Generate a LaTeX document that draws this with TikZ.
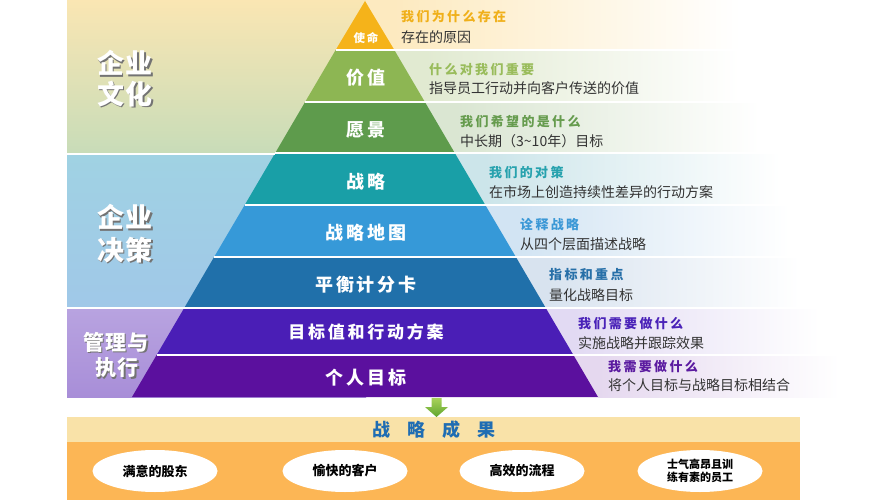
\documentclass[tikz,border=0pt]{standalone}
\usepackage{fontspec}
\usetikzlibrary{shapes.geometric}
\setmainfont{Noto Sans CJK SC}
\newfontfamily\pyrf{Noto Sans CJK SC}[LetterSpace=16]
\newfontfamily\hdf{Noto Sans CJK SC}[LetterSpace=18]
\newfontfamily\bigf{Noto Sans CJK SC}[LetterSpace=6]
\definecolor{pA}{HTML}{F5B31A}
\definecolor{pB}{HTML}{8DB653}
\definecolor{pC}{HTML}{5E9B4C}
\definecolor{pD}{HTML}{199FA7}
\definecolor{pE}{HTML}{3699D8}
\definecolor{pF}{HTML}{2070AA}
\definecolor{pG}{HTML}{4A1EB6}
\definecolor{pH}{HTML}{5B109E}
\definecolor{tA}{HTML}{FDEAC0}
\definecolor{tB}{HTML}{E1EAD1}
\definecolor{tC}{HTML}{DAE6D2}
\definecolor{tD}{HTML}{CCE5EA}
\definecolor{tE}{HTML}{D2E4F3}
\definecolor{tF}{HTML}{D8E3EF}
\definecolor{tG}{HTML}{E2DAF3}
\definecolor{tH}{HTML}{E5D8EF}
\definecolor{hA}{HTML}{F0B01A}
\definecolor{hB}{HTML}{99BC5B}
\definecolor{hC}{HTML}{669C4E}
\definecolor{hD}{HTML}{27A2AE}
\definecolor{hE}{HTML}{3B98D6}
\definecolor{hF}{HTML}{2870A8}
\definecolor{hG}{HTML}{4A22B8}
\definecolor{hH}{HTML}{5B1AA0}
\definecolor{subgray}{HTML}{333333}
\definecolor{resblue}{HTML}{1F6DB3}
\definecolor{resband}{HTML}{F9E2A8}
\definecolor{resorange}{HTML}{FCB655}
\definecolor{cultop}{HTML}{FAE6B3}
\definecolor{culbot}{HTML}{C8DCB8}
\definecolor{dectop}{HTML}{A0D2E3}
\definecolor{decbot}{HTML}{A0C8E8}
\definecolor{mgtop}{HTML}{B8A3E0}
\definecolor{mgbot}{HTML}{A88ED8}
\definecolor{arrtop}{HTML}{A8D25A}
\definecolor{arrbot}{HTML}{60A52E}
\begin{document}
\begin{tikzpicture}[x=1pt,y=-1pt,
  pyr/.style={text=white,font=\pyrf\bfseries\fontsize{18}{18}\selectfont,inner sep=0pt},
  hd/.style={anchor=west,inner sep=0pt,font=\hdf\bfseries\fontsize{13}{13}\selectfont},
  sub/.style={anchor=west,inner sep=0pt,text=subgray,font=\fontsize{14}{14}\selectfont},
  big/.style={text=white,inner sep=0pt,font=\bigf\bfseries\fontsize{27}{27}\selectfont},
  bigsh/.style={text=black!55,inner sep=0pt,font=\bigf\bfseries\fontsize{27}{27}\selectfont},
  mid/.style={text=white,inner sep=0pt,font=\bigf\bfseries\fontsize{21}{21}\selectfont},
  midsh/.style={text=black!55,inner sep=0pt,font=\bigf\bfseries\fontsize{21}{21}\selectfont},
  oval/.style={ellipse,fill=white,minimum width=125pt,minimum height=42pt,inner sep=0pt,align=center,font=\bfseries\fontsize{13}{14}\selectfont},
  sep/.style={white,line width=1.3pt}]
\useasboundingbox (0,0) rectangle (889,500);
\fill[white] (0,0) rectangle (889,500);
% left bands
\shade[top color=cultop,bottom color=culbot] (67,0) rectangle (366,153);
\shade[top color=dectop,bottom color=decbot] (67,155) rectangle (366,307);
\shade[top color=mgtop,bottom color=mgbot] (67,309) rectangle (366,397);
% right tints
\fill[tA] (366,0) rectangle (394,50);   \shade[left color=tA,right color=white] (394,0) rectangle (740,50);
\fill[tB] (366,50) rectangle (425,102); \shade[left color=tB,right color=white] (425,50) rectangle (740,102);
\fill[tC] (366,102) rectangle (455,153);\shade[left color=tC,right color=white] (455,102) rectangle (760,153);
\fill[tD] (366,153) rectangle (485,205);\shade[left color=tD,right color=white] (485,153) rectangle (780,205);
\fill[tE] (366,205) rectangle (516,257);\shade[left color=tE,right color=white] (516,205) rectangle (790,257);
\fill[tF] (366,257) rectangle (546,308);\shade[left color=tF,right color=white] (546,257) rectangle (800,308);
\fill[tG] (366,308) rectangle (573,355);\shade[left color=tG,right color=white] (573,308) rectangle (820,355);
\fill[tH] (366,355) rectangle (598,397);\shade[left color=tH,right color=white] (598,355) rectangle (840,397);
% pyramid
\fill[pA] (365,1) -- (394.35,50) -- (335.65,50) -- cycle;
\fill[pB] (335.65,50) -- (394.35,50) -- (424.9,102) -- (305.1,102) -- cycle;
\fill[pC] (305.1,102) -- (424.9,102) -- (454.8,153) -- (275.2,153) -- cycle;
\fill[pD] (275.2,153) -- (454.8,153) -- (485.3,205) -- (244.7,205) -- cycle;
\fill[pE] (244.7,205) -- (485.3,205) -- (515.9,257) -- (214.1,257) -- cycle;
\fill[pF] (214.1,257) -- (515.9,257) -- (545.8,308) -- (184.2,308) -- cycle;
\fill[pG] (184.2,308) -- (545.8,308) -- (573.4,355) -- (156.6,355) -- cycle;
\fill[pH] (156.6,355) -- (573.4,355) -- (598,397) -- (132,397) -- cycle;
% separators
\draw[sep] (335.65,50) -- (860,50);
\draw[sep] (305.1,102) -- (860,102);
\draw[sep] (275.2,153) -- (860,153);
\draw[white,line width=2pt] (67,154) -- (275.2,154);
\draw[sep] (244.7,205) -- (860,205);
\draw[sep] (214.1,257) -- (860,257);
\draw[sep] (184.2,308) -- (860,308);
\draw[white,line width=2pt] (67,308) -- (184.2,308);
\draw[sep] (156.6,355) -- (860,355);
% pyramid labels
\node[pyr,font=\pyrf\bfseries\fontsize{11.5}{11.5}\selectfont] (lA) at (366,38) {使命};
\node[pyr] (lB) at (366,78) {价值};
\node[pyr] (lC) at (366,130) {愿景};
\node[pyr] (lD) at (366,182) {战略};
\node[pyr] (lE) at (366,233) {战略地图};
\node[pyr] (lF) at (366,285) {平衡计分卡};
\node[pyr,font=\pyrf\bfseries\fontsize{17}{17}\selectfont] (lG) at (366,332) {目标值和行动方案};
\node[pyr] (lH) at (366,378) {个人目标};
% right texts
\node[hd,text=hA] (hA) at (401,17) {我们为什么存在};
\node[sub] (sA) at (401,37) {存在的原因};
\node[hd,text=hB] (hB) at (429,70) {什么对我们重要};
\node[sub] (sB) at (429,88) {指导员工行动并向客户传送的价值};
\node[hd,text=hC] (hC) at (460,122) {我们希望的是什么};
\node[sub] (sC) at (460,141) {中长期（3\char"007E 10年）目标};
\node[hd,text=hD] (hD) at (489,173) {我们的对策};
\node[sub] (sD) at (489,192) {在市场上创造持续性差异的行动方案};
\node[hd,text=hE] (hE) at (520,224) {诠释战略};
\node[sub] (sE) at (520,244) {从四个层面描述战略};
\node[hd,text=hF] (hF) at (549,275) {指标和重点};
\node[sub] (sF) at (549,295) {量化战略目标};
\node[hd,text=hG] (hG) at (578,324) {我们需要做什么};
\node[sub] (sG) at (578,343) {实施战略并跟踪效果};
\node[hd,text=hH] (hH) at (608,367) {我需要做什么};
\node[sub] (sH) at (608,385) {将个人目标与战略目标相结合};
% left labels
\node[bigsh] at (126.5,64.5) {企业};
\node[big] (b1) at (125,63) {企业};
\node[bigsh] at (126.5,95.5) {文化};
\node[big] (b2) at (125,94) {文化};
\node[bigsh] at (126.5,218.5) {企业};
\node[big] (b3) at (125,217) {企业};
\node[bigsh] at (126.5,251.5) {决策};
\node[big] (b4) at (125,250) {决策};
\node[midsh] at (117.5,343.5) {管理与};
\node[mid] (b5) at (116,342) {管理与};
\node[midsh] at (118.5,369.5) {执行};
\node[mid] (b6) at (117,368) {执行};
% bottom
\fill[resband] (67,417) rectangle (800,442);
\fill[resorange] (67,442) rectangle (800,500);
\shade[top color=arrtop,bottom color=arrbot]
  (431.5,398) -- (441.5,398) -- (441.5,407) -- (448,407) -- (436.5,417) -- (425,407) -- (431.5,407) -- cycle;
\node[text=resblue,font=\bfseries\fontsize{18}{18}\selectfont,inner sep=0pt] (res) at (434,430) {战\hspace{17pt}略\hspace{17pt}成\hspace{17pt}果};
\node[oval] (o1) at (155,471) {满意的股东};
\node[oval] (o2) at (345,471) {愉快的客户};
\node[oval] (o3) at (522,471) {高效的流程};
\node[oval,font=\bfseries\fontsize{11}{13}\selectfont] (o4) at (700,471) {士气高昂且训\\练有素的员工};
\end{tikzpicture}
\end{document}
